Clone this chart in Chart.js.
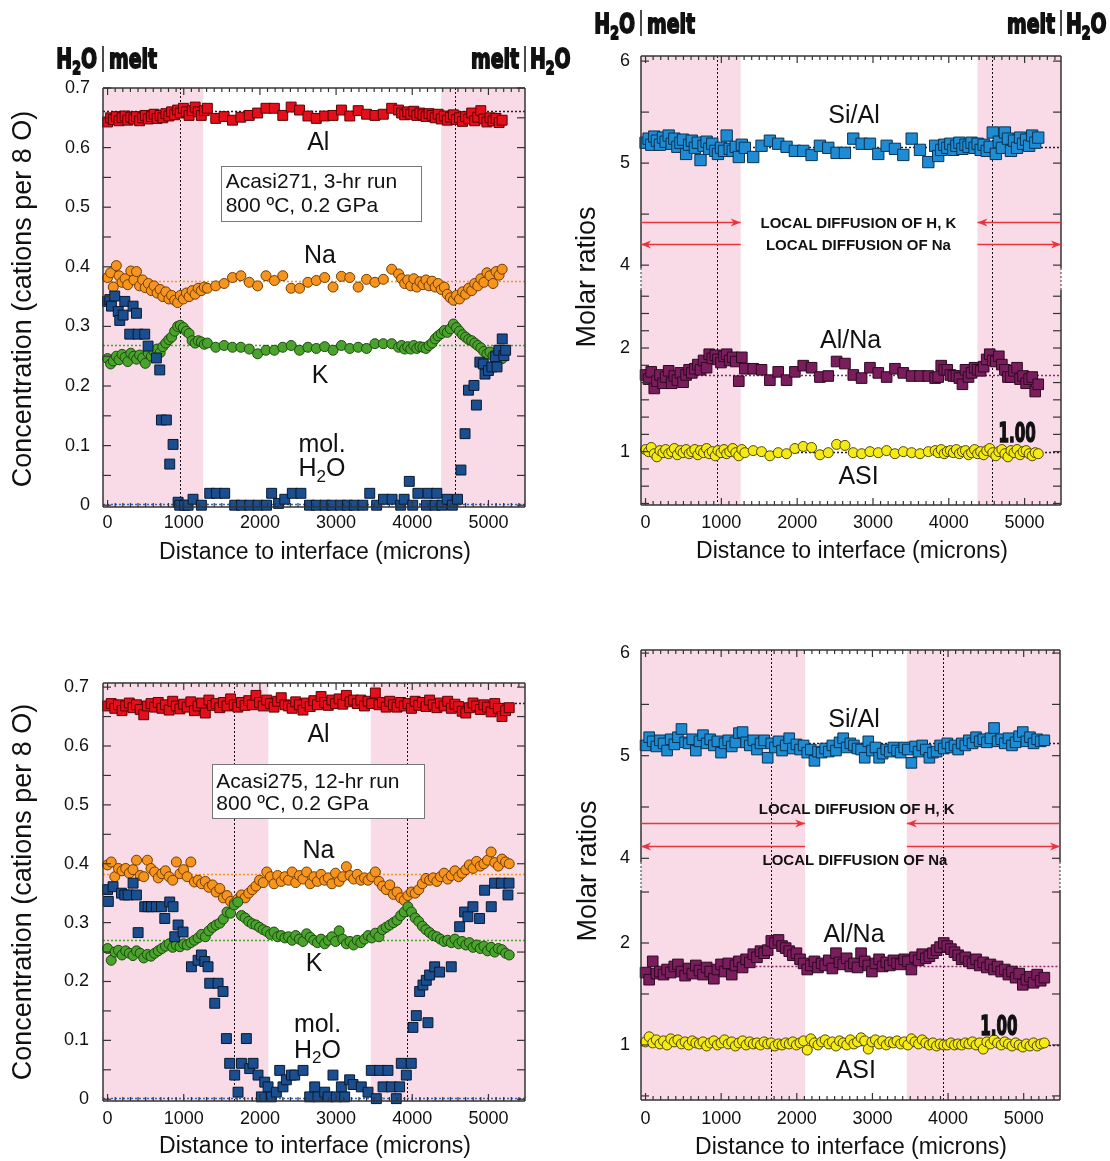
<!DOCTYPE html>
<html>
<head>
<meta charset="utf-8">
<title>Diffusion profiles Acasi271 / Acasi275</title>
<script src="https://cdn.jsdelivr.net/npm/chart.js@4.4.1/dist/chart.umd.min.js"></script>
<style>
  html, body { margin: 0; padding: 0; background: #fff; }
  #wrap { position: relative; width: 1110px; height: 1161px; overflow: hidden; }
  #wrap canvas { position: absolute; left: 0; top: 0; }
</style>
</head>
<body>
<div id="wrap">
  <canvas id="concTop" width="1110" height="1161"></canvas>
  <canvas id="ratioTop" width="1110" height="1161"></canvas>
  <canvas id="concBottom" width="1110" height="1161"></canvas>
  <canvas id="ratioBottom" width="1110" height="1161"></canvas>
</div>
<script>
// === axes ===
const X_MIN = -60, X_MAX = 5480;
const xTicks = [0, 1000, 2000, 3000, 4000, 5000];
const concTicks = [0, 0.1, 0.2, 0.3, 0.4, 0.5, 0.6, 0.7];
const ratioTicksUpper = [4, 5, 6];
const ratioTicksLower = [1, 2];

// === Acasi271, 3-hr run (distance in microns) ===
const topX = [0, 40, 75, 115, 150, 190, 230, 265, 305, 345, 380, 420, 460, 495, 535, 575, 610, 650, 690, 725, 765, 805, 840, 880, 920, 955, 995, 1035, 1070, 1110, 1150, 1190, 1230, 1270, 1310,
  1420, 1530, 1640, 1750, 1860, 1970, 2080, 2190, 2300, 2410, 2520, 2630, 2740, 2850, 2960, 3070, 3180, 3290, 3400, 3510, 3620, 3730,
  3820, 3860, 3900, 3940, 3980, 4020, 4060, 4100, 4140, 4180, 4220, 4260, 4300, 4340, 4380, 4420, 4460, 4500, 4540, 4580, 4620, 4660, 4700, 4740, 4780, 4820, 4860, 4900, 4940, 4980, 5020, 5060, 5100, 5140, 5180];
const topAl = [0.643, 0.650, 0.647, 0.652, 0.645, 0.650, 0.653, 0.646, 0.651, 0.648, 0.652, 0.645, 0.650, 0.654, 0.648, 0.652, 0.656, 0.649, 0.654, 0.650, 0.657, 0.653, 0.660, 0.655, 0.663, 0.658, 0.666, 0.660, 0.654, 0.662, 0.668, 0.660, 0.654, 0.662, 0.666,
  0.649, 0.652, 0.646, 0.651, 0.654, 0.658, 0.666, 0.666, 0.654, 0.668, 0.663, 0.653, 0.649, 0.653, 0.654, 0.663, 0.653, 0.662, 0.656, 0.654, 0.656, 0.666,
  0.663, 0.658, 0.655, 0.660, 0.656, 0.661, 0.654, 0.658, 0.655, 0.652, 0.657, 0.654, 0.650, 0.656, 0.648, 0.653, 0.646, 0.651, 0.655, 0.647, 0.650, 0.644, 0.652, 0.648, 0.658, 0.645, 0.651, 0.662, 0.648, 0.643, 0.650, 0.645, 0.649, 0.642, 0.646];
const topNa = [0.382, 0.390, 0.366, 0.402, 0.385, 0.374, 0.380, 0.370, 0.393, 0.378, 0.392, 0.368, 0.378, 0.365, 0.372, 0.360, 0.368, 0.356, 0.362, 0.350, 0.358, 0.346, 0.352, 0.344, 0.340, 0.352, 0.346, 0.356, 0.350, 0.360, 0.354, 0.364, 0.360, 0.366, 0.364,
  0.368, 0.372, 0.382, 0.385, 0.374, 0.368, 0.385, 0.377, 0.385, 0.364, 0.364, 0.374, 0.377, 0.382, 0.366, 0.384, 0.382, 0.366, 0.379, 0.374, 0.379, 0.396,
  0.388, 0.380, 0.372, 0.378, 0.368, 0.380, 0.366, 0.375, 0.370, 0.378, 0.368, 0.376, 0.366, 0.372, 0.362, 0.366, 0.354, 0.348, 0.344, 0.352, 0.346, 0.358, 0.354, 0.364, 0.360, 0.372, 0.368, 0.380, 0.374, 0.390, 0.385, 0.372, 0.392, 0.386, 0.396];
const topK = [0.246, 0.237, 0.242, 0.250, 0.244, 0.253, 0.248, 0.241, 0.255, 0.250, 0.245, 0.252, 0.247, 0.238, 0.255, 0.250, 0.258, 0.262, 0.256, 0.266, 0.272, 0.278, 0.282, 0.292, 0.300, 0.302, 0.298, 0.292, 0.288, 0.276, 0.272, 0.276, 0.274, 0.270, 0.272,
  0.265, 0.268, 0.265, 0.265, 0.262, 0.254, 0.260, 0.260, 0.265, 0.268, 0.260, 0.265, 0.263, 0.266, 0.260, 0.268, 0.263, 0.265, 0.263, 0.271, 0.271, 0.271,
  0.265, 0.268, 0.262, 0.266, 0.262, 0.268, 0.263, 0.266, 0.265, 0.263, 0.268, 0.272, 0.279, 0.284, 0.288, 0.293, 0.290, 0.296, 0.304, 0.298, 0.292, 0.286, 0.282, 0.278, 0.276, 0.272, 0.268, 0.264, 0.258, 0.254, 0.257, 0.251, 0.248, 0.252, 0.246];
const topSiAl = [5.20, 5.24, 5.18, 5.26, 5.22, 5.18, 5.25, 5.21, 5.27, 5.19, 5.24, 5.16, 5.20, 5.23, 5.09, 5.18, 5.22, 5.15, 5.20, 5.03, 5.17, 5.21, 5.14, 5.19, 5.12, 5.09, 5.15, 5.12, 5.27, 5.14, 5.12, 5.16, 5.06, 5.18, 5.15,
  5.06, 5.17, 5.22, 5.19, 5.16, 5.12, 5.12, 5.08, 5.17, 5.15, 5.10, 5.10, 5.24, 5.19, 5.19, 5.09, 5.17, 5.14, 5.08, 5.24, 5.13, 5.01,
  5.17, 5.07, 5.13, 5.18, 5.15, 5.19, 5.13, 5.17, 5.20, 5.14, 5.18, 5.16, 5.20, 5.15, 5.19, 5.13, 5.18, 5.12, 5.16, 5.30, 5.09, 5.21, 5.15, 5.30, 5.24, 5.12, 5.22, 5.15, 5.25, 5.19, 5.23, 5.17, 5.27, 5.20, 5.25];
const topAlNa = [1.74, 1.70, 1.77, 1.61, 1.68, 1.74, 1.66, 1.72, 1.78, 1.66, 1.73, 1.69, 1.76, 1.67, 1.74, 1.79, 1.76, 1.80, 1.84, 1.79, 1.88, 1.81, 1.94, 1.90, 1.93, 1.89, 1.86, 1.92, 1.94, 1.88, 1.91, 1.87, 1.68, 1.91, 1.80,
  1.80, 1.79, 1.69, 1.77, 1.69, 1.77, 1.83, 1.81, 1.72, 1.73, 1.87, 1.85, 1.74, 1.71, 1.81, 1.76, 1.72, 1.80, 1.76, 1.73, 1.73, 1.73,
  1.71, 1.72, 1.83, 1.79, 1.79, 1.74, 1.73, 1.73, 1.71, 1.65, 1.79, 1.72, 1.76, 1.81, 1.79, 1.78, 1.82, 1.89, 1.94, 1.88, 1.87, 1.92, 1.84, 1.79, 1.72, 1.72, 1.78, 1.81, 1.70, 1.73, 1.66, 1.70, 1.72, 1.58, 1.65];
const topASI = [1.02, 1.00, 1.04, 0.98, 0.95, 1.01, 0.99, 1.02, 0.98, 1.00, 1.03, 0.97, 1.01, 0.99, 1.02, 0.98, 1.00, 1.02, 0.97, 1.01, 0.99, 1.03, 0.98, 1.00, 0.96, 1.01, 0.99, 1.02, 0.98, 1.00, 1.03, 0.99, 0.96, 1.02, 0.99,
  1.01, 1.00, 0.96, 0.99, 0.98, 1.03, 1.05, 1.04, 0.97, 0.99, 1.07, 1.06, 0.99, 0.98, 1.00, 0.99, 1.01, 0.98, 1.00, 0.99, 0.98, 1.00,
  1.01, 0.99, 1.02, 0.98, 1.00, 1.01, 0.99, 1.02, 0.98, 1.00, 1.01, 0.97, 0.99, 1.02, 0.98, 1.00, 0.97, 1.01, 1.03, 0.99, 0.96, 1.00, 1.02, 0.98, 0.95, 1.01, 0.99, 1.02, 0.97, 1.00, 1.01, 0.98, 0.96, 0.99, 0.98];
const topH2OX = [0, 29, 51, 94, 140, 160, 204, 226, 291, 335, 379, 401, 488, 532, 641, 685, 707, 772, 816, 860, 926, 947, 1013, 1057, 1122, 1232, 1341, 1429, 1538, 1669,
  1757, 1866, 1975, 2087, 2154, 2245, 2326, 2425, 2538, 2651, 2742, 2855, 2945, 3058, 3148, 3238, 3351, 3442, 3532, 3622, 3735, 3848, 3893, 3961, 4006,
  4074, 4187, 4209, 4300, 4322, 4390, 4458, 4526, 4594, 4639, 4693, 4738, 4810, 4842, 4887, 4932, 4955, 5000, 5045, 5090, 5113, 5136, 5181, 5203, 5226];
const topH2O = [0.342, 0.345, 0.334, 0.351, 0.325, 0.310, 0.319, 0.342, 0.287, 0.334, 0.322, 0.287, 0.287, 0.267, 0.247, 0.227, 0.143, 0.143, 0.069, 0.102, 0.005, 0, 0, 0, 0.01, 0, 0.02, 0.02, 0.02, 0,
  0, 0, 0, 0, 0.02, 0.003, 0.01, 0.02, 0.02, 0, 0, 0, 0, 0, 0, 0, 0, 0.02, 0, 0.01, 0.01, 0, 0.01, 0.04, 0,
  0.02, 0, 0.02, 0, 0.02, 0, 0.01, 0, 0.01, 0.059, 0.12, 0.193, 0.201, 0.168, 0.24, 0.237, 0.22, 0.226, 0.232, 0.249, 0.232, 0.26, 0.279, 0.251, 0.26];

// === Acasi275, 12-hr run ===
const bottomX = [0, 48, 95, 143, 190, 238, 285, 333, 380, 428, 475, 523, 570, 618, 665, 713, 760, 808, 855, 903,
  950, 998, 1045, 1093, 1140, 1188, 1235, 1283, 1330, 1378, 1425, 1473, 1520, 1568, 1615, 1663, 1710, 1758, 1805, 1853,
  1900, 1948, 1995, 2043, 2090, 2138, 2185, 2233, 2280, 2328, 2375, 2423, 2470, 2518, 2565, 2613, 2660, 2708, 2755, 2803,
  2850, 2898, 2945, 2993, 3040, 3088, 3135, 3183, 3230, 3278, 3325, 3373, 3420, 3468, 3515, 3563, 3610, 3658, 3705, 3753,
  3800, 3848, 3895, 3943, 3990, 4038, 4085, 4133, 4180, 4228, 4275, 4323, 4370, 4418, 4465, 4513, 4560, 4608, 4655, 4703,
  4750, 4798, 4845, 4893, 4940, 4988, 5035, 5083, 5130, 5178, 5225, 5273];
const bottomAl = [0.668, 0.672, 0.664, 0.670, 0.660, 0.668, 0.673, 0.665, 0.670, 0.662, 0.653, 0.668, 0.672, 0.666, 0.674, 0.664, 0.670, 0.661, 0.676, 0.668,
  0.663, 0.671, 0.666, 0.675, 0.660, 0.668, 0.673, 0.656, 0.678, 0.669, 0.672, 0.665, 0.674, 0.668, 0.680, 0.670, 0.666, 0.674, 0.669, 0.677,
  0.670, 0.686, 0.674, 0.668, 0.678, 0.672, 0.666, 0.676, 0.682, 0.670, 0.668, 0.664, 0.675, 0.670, 0.661, 0.673, 0.667, 0.677, 0.670, 0.684,
  0.674, 0.669, 0.678, 0.672, 0.680, 0.671, 0.686, 0.675, 0.678, 0.672, 0.678, 0.668, 0.676, 0.672, 0.690, 0.670, 0.674, 0.666, 0.676, 0.670,
  0.666, 0.674, 0.668, 0.672, 0.664, 0.676, 0.669, 0.674, 0.667, 0.678, 0.670, 0.665, 0.673, 0.668, 0.676, 0.664, 0.671, 0.667, 0.659, 0.656,
  0.665, 0.673, 0.668, 0.662, 0.670, 0.666, 0.658, 0.672, 0.664, 0.650, 0.660, 0.665];
const bottomNa = [0.398, 0.403, 0.378, 0.392, 0.388, 0.392, 0.384, 0.390, 0.406, 0.380, 0.378, 0.406, 0.392, 0.386, 0.376, 0.383, 0.388, 0.378, 0.372, 0.403,
  0.383, 0.390, 0.378, 0.403, 0.369, 0.372, 0.366, 0.370, 0.360, 0.364, 0.352, 0.358, 0.342, 0.346, 0.336, 0.333, 0.340, 0.347, 0.342, 0.350,
  0.356, 0.362, 0.372, 0.368, 0.386, 0.378, 0.366, 0.380, 0.370, 0.378, 0.372, 0.386, 0.368, 0.380, 0.374, 0.386, 0.366, 0.378, 0.370, 0.382,
  0.372, 0.376, 0.366, 0.384, 0.370, 0.378, 0.395, 0.380, 0.374, 0.382, 0.372, 0.376, 0.372, 0.378, 0.386, 0.370, 0.362, 0.356, 0.364, 0.348,
  0.352, 0.342, 0.338, 0.346, 0.352, 0.350, 0.356, 0.366, 0.375, 0.372, 0.376, 0.370, 0.378, 0.384, 0.374, 0.380, 0.388, 0.378, 0.384, 0.390,
  0.398, 0.392, 0.404, 0.396, 0.400, 0.406, 0.420, 0.402, 0.396, 0.408, 0.403, 0.400];
const bottomK = [0.256, 0.236, 0.250, 0.253, 0.245, 0.252, 0.248, 0.244, 0.252, 0.248, 0.240, 0.246, 0.243, 0.248, 0.252, 0.256, 0.260, 0.264, 0.258, 0.262,
  0.259, 0.264, 0.262, 0.266, 0.270, 0.274, 0.280, 0.276, 0.286, 0.292, 0.296, 0.299, 0.306, 0.318, 0.316, 0.330, 0.335, 0.312, 0.308, 0.302,
  0.298, 0.296, 0.292, 0.288, 0.285, 0.280, 0.284, 0.276, 0.278, 0.274, 0.276, 0.270, 0.278, 0.272, 0.268, 0.281, 0.275, 0.270, 0.266, 0.272,
  0.264, 0.270, 0.276, 0.268, 0.286, 0.272, 0.264, 0.268, 0.262, 0.270, 0.266, 0.272, 0.278, 0.274, 0.282, 0.276, 0.288, 0.292, 0.296, 0.300,
  0.304, 0.312, 0.318, 0.327, 0.318, 0.308, 0.302, 0.294, 0.288, 0.283, 0.278, 0.276, 0.272, 0.268, 0.270, 0.266, 0.272, 0.264, 0.268, 0.262,
  0.266, 0.258, 0.262, 0.256, 0.260, 0.252, 0.258, 0.250, 0.256, 0.254, 0.248, 0.245];
const bottomSiAl = [5.10, 5.18, 5.14, 5.09, 5.15, 5.12, 5.05, 5.16, 5.11, 5.18, 5.26, 5.13, 5.12, 5.16, 5.05, 5.14, 5.20, 5.12, 5.16, 5.10,
  5.14, 5.03, 5.12, 5.15, 5.09, 5.13, 5.22, 5.23, 5.13, 5.10, 5.15, 5.06, 5.12, 5.15, 4.98, 5.12, 5.08, 5.14, 5.05, 5.10,
  5.17, 5.07, 5.11, 5.06, 5.10, 5.03, 5.06, 4.95, 5.04, 5.03, 5.07, 5.04, 5.10, 5.05, 5.13, 5.17, 5.08, 5.12, 5.10, 5.07,
  5.06, 4.98, 5.14, 5.05, 5.08, 4.98, 5.02, 5.06, 5.04, 5.08, 5.05, 5.03, 5.08, 5.06, 4.93, 5.09, 5.04, 5.10, 5.06, 4.98,
  5.03, 5.04, 5.10, 5.07, 5.12, 5.08, 5.10, 5.06, 5.12, 5.10, 5.15, 5.12, 5.18, 5.14, 5.16, 5.13, 5.17, 5.27, 5.14, 5.16,
  5.12, 5.17, 5.10, 5.13, 5.19, 5.23, 5.14, 5.18, 5.12, 5.16, 5.14, 5.15];
const bottomAlNa = [1.71, 1.64, 1.82, 1.70, 1.72, 1.69, 1.74, 1.71, 1.77, 1.79, 1.72, 1.68, 1.75, 1.70, 1.78, 1.73, 1.69, 1.76, 1.72, 1.65,
  1.74, 1.79, 1.72, 1.80, 1.69, 1.78, 1.82, 1.76, 1.84, 1.81, 1.89, 1.86, 1.92, 1.90, 1.93, 2.02, 2.00, 2.03, 1.97, 1.95,
  1.92, 1.88, 1.90, 1.84, 1.80, 1.74, 1.78, 1.82, 1.76, 1.80, 1.78, 1.83, 1.75, 1.90, 1.81, 1.79, 1.85, 1.77, 1.80, 1.76,
  1.90, 1.82, 1.78, 1.72, 1.80, 1.84, 1.77, 1.81, 1.78, 1.83, 1.80, 1.79, 1.84, 1.82, 1.74, 1.86, 1.83, 1.89, 1.85, 1.87,
  1.90, 1.93, 1.96, 2.00, 1.97, 1.94, 1.91, 1.88, 1.84, 1.86, 1.82, 1.80, 1.84, 1.78, 1.81, 1.76, 1.79, 1.74, 1.77, 1.72,
  1.74, 1.69, 1.72, 1.66, 1.70, 1.59, 1.64, 1.67, 1.61, 1.69, 1.63, 1.66];
const bottomASI = [1.03, 1.08, 1.02, 1.05, 1.01, 1.04, 1.00, 1.06, 1.03, 1.05, 1.01, 1.03, 1.00, 1.04, 1.02, 1.01, 1.03, 0.99, 1.02, 1.04,
  1.00, 1.02, 1.05, 1.01, 1.03, 0.99, 1.02, 1.04, 1.00, 1.03, 1.01, 1.02, 1.00, 1.03, 1.01, 1.02, 0.99, 1.01, 1.00, 1.02,
  1.01, 1.03, 1.00, 1.02, 1.04, 0.95, 1.06, 1.02, 1.00, 1.03, 1.05, 1.01, 1.03, 0.99, 1.04, 1.02, 1.00, 1.05, 1.01, 1.03,
  1.07, 1.04, 0.96, 1.03, 1.05, 1.01, 1.04, 1.00, 1.03, 1.02, 1.04, 1.01, 1.03, 1.00, 1.06, 1.03, 1.01, 1.05, 1.02, 1.00,
  1.02, 0.99, 1.01, 1.00, 1.00, 1.02, 1.00, 1.01, 1.00, 1.02, 1.01, 1.03, 1.00, 1.02, 0.96, 1.03, 1.01, 1.05, 1.02, 1.00,
  1.03, 1.01, 0.99, 1.02, 1.00, 0.98, 1.01, 0.99, 1.02, 0.99, 1.01, 1.02];
const bottomH2OX = [0, 10, 72, 182, 226, 269, 335, 379, 401, 488, 532, 576, 641, 707, 751, 816, 860, 882, 926, 991,
  1101, 1188, 1232, 1276, 1319, 1341, 1407, 1451, 1516, 1560, 1603, 1669, 1713, 1757, 1822, 1866, 1910, 1975, 2019, 2063,
  2107, 2150, 2216, 2260, 2303, 2347, 2413, 2457, 2566, 2653, 2719, 2763, 2850, 2894, 2959, 3003, 3069, 3113, 3178, 3222,
  3331, 3419, 3462, 3528, 3572, 3616, 3681, 3725, 3790, 3834, 3856, 3922, 3987, 4009, 4053, 4097, 4140, 4184, 4206, 4228,
  4294, 4359, 4512, 4622, 4687, 4731, 4796, 4884, 4950, 5037, 5081, 5169, 5256, 5270];
const bottomH2O = [0.356, 0.336, 0.361, 0.350, 0.347, 0.347, 0.367, 0.347, 0.283, 0.327, 0.327, 0.327, 0.327, 0.327, 0.307, 0.335, 0.327, 0.276, 0.296, 0.284,
  0.225, 0.236, 0.245, 0.234, 0.225, 0.197, 0.163, 0.197, 0.183, 0.103, 0.061, 0.041, 0.012, 0.061, 0.103, 0.052, 0.061, 0.041, 0.004, 0.029,
  0.021, 0.004, 0.012, 0.049, 0.021, 0.033, 0.041, 0.041, 0.049, 0.004, 0.021, 0.004, 0.012, 0.004, 0.041, 0.004, 0.021, 0.004, 0.033, 0.025,
  0.021, 0.012, 0.049, 0.001, 0.049, 0.021, 0.049, 0.021, 0.001, 0.021, 0.061, 0.041, 0.061, 0.122, 0.142, 0.183, 0.194, 0.202, 0.13, 0.211,
  0.225, 0.216, 0.225, 0.293, 0.318, 0.310, 0.327, 0.307, 0.355, 0.327, 0.367, 0.367, 0.347, 0.367];

// === look ===
const SANS = "'Liberation Sans', Arial, Helvetica, sans-serif";
const HEAVY = "'DejaVu Sans', sans-serif";   // squeezed horizontally to look like a condensed black face
const PINK = '#f9dbe7';
const RED_ARROW = '#e8343c';
Chart.defaults.font.family = SANS;
Chart.defaults.color = '#111';

function line(ctx, x0, y0, x1, y1) {
  ctx.beginPath(); ctx.moveTo(x0, y0); ctx.lineTo(x1, y1); ctx.stroke();
}

// text with "_" marking a subscript character, e.g. H_2O; o.sx squeezes it horizontally
function rich(ctx, str, x, y, size, o) {
  o = o || {};
  const fam = o.family || SANS, wt = o.bold ? 'bold ' : '', sx = o.sx || 1;
  const fMain = wt + size + 'px ' + fam, fSub = wt + Math.round(size * 0.68) + 'px ' + fam;
  const parts = [];
  for (let i = 0; i < str.length; i++) {
    if (str[i] === '_') { parts.push([str[i + 1], true]); i++; } else parts.push([str[i], false]);
  }
  let w = 0;
  parts.forEach(p => { ctx.font = p[1] ? fSub : fMain; w += ctx.measureText(p[0]).width * sx; });
  let cx = o.align === 'right' ? x - w : o.align === 'left' ? x : x - w / 2;
  ctx.textAlign = 'left'; ctx.textBaseline = 'alphabetic';
  parts.forEach(p => {
    ctx.font = p[1] ? fSub : fMain;
    const yy = p[1] ? y + size * 0.22 : y;
    ctx.save();
    ctx.translate(cx, yy); ctx.scale(sx, 1);
    if (o.stroke) ctx.lineWidth = o.stroke;
    ctx.fillText(p[0], 0, 0);
    if (o.stroke) ctx.strokeText(p[0], 0, 0);
    ctx.restore();
    cx += ctx.measureText(p[0]).width * sx;
  });
}

function deco(p) {
  return {
    id: 'deco',
    beforeDatasetsDraw(chart) {
      const ctx = chart.ctx, a = chart.chartArea, xs = chart.scales.x;
      ctx.save();
      ctx.fillStyle = PINK;
      const w0 = xs.getPixelForValue(p.white[0]), w1 = xs.getPixelForValue(p.white[1]);
      ctx.fillRect(a.left, a.top, w0 - a.left, a.bottom - a.top);
      ctx.fillRect(w1, a.top, a.right - w1, a.bottom - a.top);
      // interface positions
      ctx.lineWidth = 1; ctx.strokeStyle = '#111'; ctx.setLineDash([2, 2]);
      p.interfaces.forEach(v => {
        const px = Math.round(xs.getPixelForValue(v)) + 0.5;
        line(ctx, px, a.top, px, a.bottom);
      });
      // starting composition lines
      p.refs.forEach(r => {
        const py = Math.round(chart.scales[r.axis].getPixelForValue(r.v)) + 0.5;
        const x0 = r.from != null ? xs.getPixelForValue(r.from) : a.left;
        ctx.strokeStyle = r.color; ctx.lineWidth = 1.5; ctx.setLineDash([2, 2]);
        line(ctx, x0, py, a.right, py);
      });
      ctx.restore();
    },
    afterDatasetsDraw(chart) {
      const ctx = chart.ctx, a = chart.chartArea, xs = chart.scales.x;
      ctx.save();
      // frame (dotted where the ratio axis is broken)
      ctx.strokeStyle = '#333'; ctx.lineWidth = 1.5; ctx.setLineDash([]);
      line(ctx, a.left, a.top, a.right, a.top);
      line(ctx, a.left, a.bottom, a.right, a.bottom);
      const g = chart.scales.yG;
      [a.left, a.right].forEach(px => {
        if (g) {
          ctx.setLineDash([]); ctx.lineWidth = 1.5;
          line(ctx, px, a.top, px, g.top); line(ctx, px, g.bottom, px, a.bottom);
          ctx.setLineDash([2, 2]); ctx.lineWidth = 1;
          line(ctx, px, g.top, px, g.bottom);
        } else {
          line(ctx, px, a.top, px, a.bottom);
        }
      });
      // inward ticks
      ctx.setLineDash([]); ctx.lineWidth = 1.2;
      for (let k = 0; k * 100 <= xs.max; k++) {
        const v = k * 100, px = xs.getPixelForValue(v), len = v % 1000 === 0 ? 7 : 4;
        line(ctx, px, a.bottom, px, a.bottom - len);
        line(ctx, px, a.top, px, a.top + len);
      }
      p.yTicks.forEach(t => {
        const s = chart.scales[t.axis];
        for (let k = Math.ceil(s.min / t.step - 1e-6); k * t.step <= s.max + 1e-6; k++) {
          const py = s.getPixelForValue(k * t.step);
          line(ctx, a.left, py, a.left + 8, py);
          line(ctx, a.right - 8, py, a.right, py);
        }
      });
      // run box
      if (p.box) {
        const b = p.box, ys = chart.scales.y;
        const x0 = Math.round(xs.getPixelForValue(b.x0)), x1 = Math.round(xs.getPixelForValue(b.x1));
        const y0 = Math.round(ys.getPixelForValue(b.y0)), y1 = Math.round(ys.getPixelForValue(b.y1));
        ctx.fillStyle = '#fff'; ctx.fillRect(x0, y0, x1 - x0, y1 - y0);
        ctx.strokeStyle = '#777'; ctx.lineWidth = 1; ctx.strokeRect(x0 + 0.5, y0 + 0.5, x1 - x0, y1 - y0);
        ctx.fillStyle = '#111'; ctx.font = '21px ' + SANS; ctx.textAlign = 'left'; ctx.textBaseline = 'alphabetic';
        b.lines.forEach((s, i) => ctx.fillText(s, xs.getPixelForValue(b.tx), ys.getPixelForValue(b.ty[i])));
      }
      // arrows
      (p.arrows || []).forEach(ar => {
        const py = Math.round(chart.scales[ar.axis].getPixelForValue(ar.v)) + 0.5;
        const x0 = xs.getPixelForValue(ar.x0), x1 = xs.getPixelForValue(ar.x1);
        ctx.strokeStyle = RED_ARROW; ctx.fillStyle = RED_ARROW; ctx.lineWidth = 1.5;
        line(ctx, x0, py, x1, py);
        const tip = ar.head === 'end' ? x1 : x0, dir = ar.head === 'end' ? -1 : 1;
        ctx.beginPath();
        ctx.moveTo(tip, py); ctx.lineTo(tip + dir * 10, py - 4); ctx.lineTo(tip + dir * 7, py); ctx.lineTo(tip + dir * 10, py + 4);
        ctx.closePath(); ctx.fill();
      });
      // labels
      ctx.fillStyle = '#111'; ctx.strokeStyle = '#111';
      p.labels.forEach(l => {
        const px = xs.getPixelForValue(l.x), py = chart.scales[l.axis || 'y'].getPixelForValue(l.y);
        rich(ctx, l.t, px, py, l.size || 25, l);
      });
      ctx.restore();
    },
    afterDraw(chart) {
      const ctx = chart.ctx, a = chart.chartArea;
      ctx.save();
      ctx.fillStyle = '#111'; ctx.strokeStyle = '#111';
      ctx.font = '23px ' + SANS; ctx.textAlign = 'center'; ctx.textBaseline = 'middle';
      ctx.fillText('Distance to interface (microns)', p.xTitle[0], p.xTitle[1]);
      ctx.save();
      ctx.translate(p.yTitle[0], p.yTitle[1]); ctx.rotate(-Math.PI / 2);
      ctx.font = '27px ' + SANS; ctx.fillText(p.yTitleText, 0, 0);
      ctx.restore();
      if (p.header) {
        const h = p.header, hf = {family: HEAVY, bold: true, stroke: 1.8, sx: 0.7};
        ctx.lineWidth = 1.5;
        line(ctx, a.left, h.top, a.left, h.bot);
        line(ctx, a.right, h.top, a.right, h.bot);
        rich(ctx, 'H_2O', a.left - 6, h.base, 27, Object.assign({align: 'right'}, hf));
        rich(ctx, 'melt', a.left + 6, h.base, 27, Object.assign({align: 'left'}, hf));
        rich(ctx, 'melt', a.right - 6, h.base, 27, Object.assign({align: 'right'}, hf));
        rich(ctx, 'H_2O', a.right + 5, h.base, 27, Object.assign({align: 'left'}, hf));
      }
      ctx.restore();
    }
  };
}

function points(xs, ys) {
  return xs.map((x, i) => ({x: x, y: ys[i]})).filter(pt => pt.y != null);
}

function series(label, xs, ys, shape, r, fill, edge, axis) {
  return {
    label: label, data: points(xs, ys), yAxisID: axis || 'y',
    showLine: false, clip: false,
    pointStyle: shape, pointRadius: r, pointHoverRadius: r,
    pointBackgroundColor: fill, pointBorderColor: edge, pointBorderWidth: 1
  };
}

function xAxis(pad) {
  return {
    type: 'linear', position: 'bottom', min: X_MIN, max: X_MAX,
    grid: {display: false, drawTicks: false}, border: {display: false},
    ticks: {autoSkip: false, maxRotation: 0, padding: pad, color: '#111', font: {size: 18}, callback: v => String(v)},
    afterBuildTicks: s => { s.ticks = xTicks.map(v => ({value: v})); },
    afterFit: s => { s.height = 40; }
  };
}

function yAxis(vals, pad, extra) {
  return Object.assign({
    type: 'linear', position: 'left',
    grid: {display: false, drawTicks: false}, border: {display: false},
    ticks: {autoSkip: false, padding: pad, color: '#111', font: {size: 18},
      callback: v => (v === 0 ? '0' : (Number.isInteger(v) ? String(v) : v.toFixed(1)))},
    afterBuildTicks: s => { s.ticks = vals.map(v => ({value: v})); },
    afterFit: s => { s.width = 60; }
  }, extra);
}

function gapAxis(weight) {
  return {
    type: 'linear', position: 'left', stack: 'ratio', stackWeight: weight, weight: 2, min: 0, max: 1,
    grid: {display: false, drawTicks: false}, border: {display: false}, ticks: {display: false},
    afterFit: s => { s.width = 60; }
  };
}

function panel(id, area, scales, datasets, p) {
  new Chart(document.getElementById(id), {
    type: 'scatter',
    data: {datasets: datasets},
    options: {
      responsive: false, animation: false, devicePixelRatio: 1, events: [],
      layout: {padding: {left: area.left - 60, top: area.top, right: 1110 - area.right, bottom: 1161 - area.bottom - 40}},
      scales: scales,
      plugins: {legend: {display: false}, tooltip: {enabled: false}}
    },
    plugins: [deco(p)]
  });
}

const C = {
  al: ['#e3101c', '#5c0000'], na: ['#f7941e', '#6e3c00'], k: ['#4aa32c', '#1c4a0e'],
  h2o: ['#1b4e8e', '#08192f'], sial: ['#1e8bd2', '#0a3353'], alna: ['#7a1d5c', '#2e0822'], asi: ['#f5ea14', '#4d4600']
};
const ONE = {size: 27, family: HEAVY, bold: true, stroke: 1.6, sx: 0.56};

// --- top left: concentrations, Acasi271 ---
panel('concTop', {left: 103, top: 88, right: 525, bottom: 507},
  {x: xAxis(5), y: yAxis(concTicks, 13, {min: -0.003, max: 0.7})},
  [
    series('mol. H2O', topH2OX, topH2O, 'rect', 7, C.h2o[0], C.h2o[1]),
    series('K', topX, topK, 'circle', 5, C.k[0], C.k[1]),
    series('Na', topX, topNa, 'circle', 5, C.na[0], C.na[1]),
    series('Al', topX, topAl, 'rect', 7, C.al[0], C.al[1])
  ],
  {
    white: [1255, 4378], interfaces: [945, 4565],
    refs: [{axis: 'y', v: 0.661, color: '#222'}, {axis: 'y', v: 0.376, color: '#f7941e'}, {axis: 'y', v: 0.269, color: '#4aa32c'}, {axis: 'y', v: 0.002, color: '#3566b5'}],
    yTicks: [{axis: 'y', step: 0.05}],
    labels: [{t: 'Al', x: 2766, y: 0.596}, {t: 'Na', x: 2789, y: 0.407}, {t: 'K', x: 2789, y: 0.2045}, {t: 'mol.', x: 2815, y: 0.090}, {t: 'H_2O', x: 2815, y: 0.049}],
    box: {x0: 1494, x1: 4116, y0: 0.5691, y1: 0.4768, tx: 1550, ty: [0.5322, 0.4924], lines: ['Acasi271, 3-hr run', '800 ºC, 0.2 GPa']},
    xTitle: [315, 553], yTitle: [24, 299], yTitleText: 'Concentration (cations per 8 O)',
    header: {base: 68, top: 46, bot: 72}
  });

// --- top right: molar ratios, Acasi271 (broken axis) ---
panel('ratioTop', {left: 641, top: 56, right: 1061, bottom: 505},
  {
    x: xAxis(7),
    yU: yAxis(ratioTicksUpper, 11, {min: 3.972, max: 6.05, stack: 'ratio', stackWeight: 212, weight: 3}),
    yG: gapAxis(22),
    yL: yAxis(ratioTicksLower, 11, {min: 0.485, max: 2.56, stack: 'ratio', stackWeight: 215, weight: 1})
  },
  [
    series('Si/Al', topX, topSiAl, 'rect', 8, C.sial[0], C.sial[1], 'yU'),
    series('Al/Na', topX, topAlNa, 'rect', 7.5, C.alna[0], C.alna[1], 'yL'),
    series('ASI', topX, topASI, 'circle', 5, C.asi[0], C.asi[1], 'yL')
  ],
  {
    white: [1255, 4378], interfaces: [945, 4565],
    refs: [{axis: 'yU', v: 5.16, color: '#222'}, {axis: 'yL', v: 1.742, color: '#8a2a6a'}, {axis: 'yL', v: 1.0, color: '#222'}],
    yTicks: [{axis: 'yU', step: 0.5}, {axis: 'yL', step: 1 / 6}],
    labels: [
      {t: 'Si/Al', x: 2750, y: 5.39, axis: 'yU'}, {t: 'Al/Na', x: 2705, y: 2.0, axis: 'yL'}, {t: 'ASI', x: 2810, y: 0.685, axis: 'yL'},
      Object.assign({t: '1.00', x: 4900, y: 1.097, axis: 'yL'}, ONE),
      {t: 'LOCAL DIFFUSION OF H, K', x: 2808, y: 4.364, axis: 'yU', size: 15, bold: true},
      {t: 'LOCAL DIFFUSION OF Na', x: 2808, y: 4.148, axis: 'yU', size: 15, bold: true}
    ],
    arrows: [
      {axis: 'yU', v: 4.425, x0: X_MIN, x1: 1255, head: 'end'}, {axis: 'yU', v: 4.425, x0: 4378, x1: X_MAX, head: 'start'},
      {axis: 'yU', v: 4.207, x0: X_MIN, x1: 1255, head: 'start'}, {axis: 'yU', v: 4.207, x0: 4378, x1: X_MAX, head: 'end'}
    ],
    xTitle: [852, 552], yTitle: [588, 277], yTitleText: 'Molar ratios',
    header: {base: 33, top: 10, bot: 36}
  });

// --- bottom left: concentrations, Acasi275 ---
panel('concBottom', {left: 103, top: 683, right: 525, bottom: 1101},
  {x: xAxis(7), y: yAxis(concTicks, 14, {min: -0.003, max: 0.707})},
  [
    series('mol. H2O', bottomH2OX, bottomH2O, 'rect', 7, C.h2o[0], C.h2o[1]),
    series('K', bottomX, bottomK, 'circle', 5, C.k[0], C.k[1]),
    series('Na', bottomX, bottomNa, 'circle', 5, C.na[0], C.na[1]),
    series('Al', bottomX, bottomAl, 'rect', 7, C.al[0], C.al[1])
  ],
  {
    white: [2110, 3455], interfaces: [1655, 3930],
    refs: [{axis: 'y', v: 0.673, color: '#222'}, {axis: 'y', v: 0.382, color: '#f7941e'}, {axis: 'y', v: 0.270, color: '#4aa32c'}, {axis: 'y', v: 0.002, color: '#3566b5'}],
    yTicks: [{axis: 'y', step: 0.05}],
    labels: [{t: 'Al', x: 2769, y: 0.607}, {t: 'Na', x: 2769, y: 0.409}, {t: 'K', x: 2710, y: 0.2186}, {t: 'mol.', x: 2756, y: 0.115}, {t: 'H_2O', x: 2756, y: 0.0701}],
    box: {x0: 1368, x1: 4149, y0: 0.569, y1: 0.4773, tx: 1427, ty: [0.5287, 0.4914], lines: ['Acasi275, 12-hr run', '800 ºC, 0.2 GPa']},
    xTitle: [315, 1147], yTitle: [24, 892], yTitleText: 'Concentration (cations per 8 O)'
  });

// --- bottom right: molar ratios, Acasi275 ---
panel('ratioBottom', {left: 641, top: 650, right: 1060, bottom: 1100},
  {
    x: xAxis(8),
    yU: yAxis(ratioTicksUpper, 11, {min: 3.964, max: 6.03, stack: 'ratio', stackWeight: 212, weight: 3}),
    yG: gapAxis(28),
    yL: yAxis(ratioTicksLower, 11, {min: 0.46, max: 2.52, stack: 'ratio', stackWeight: 210, weight: 1})
  },
  [
    series('Si/Al', bottomX, bottomSiAl, 'rect', 7.5, C.sial[0], C.sial[1], 'yU'),
    series('Al/Na', bottomX, bottomAlNa, 'rect', 7.5, C.alna[0], C.alna[1], 'yL'),
    series('ASI', bottomX, bottomASI, 'circle', 5, C.asi[0], C.asi[1], 'yL')
  ],
  {
    white: [2110, 3455], interfaces: [1655, 3930],
    refs: [{axis: 'yU', v: 5.12, color: '#222'}, {axis: 'yL', v: 1.77, color: '#8a2a6a', from: 1400}, {axis: 'yL', v: 1.0, color: '#222'}],
    yTicks: [{axis: 'yU', step: 0.5}, {axis: 'yL', step: 0.5}],
    labels: [
      {t: 'Si/Al', x: 2756, y: 5.28, axis: 'yU'}, {t: 'Al/Na', x: 2756, y: 2.013, axis: 'yL'}, {t: 'ASI', x: 2780, y: 0.673, axis: 'yL'},
      Object.assign({t: '1.00', x: 4671, y: 1.10, axis: 'yL'}, ONE),
      {t: 'LOCAL DIFFUSION OF H, K', x: 2792, y: 4.43, axis: 'yU', size: 15, bold: true},
      {t: 'LOCAL DIFFUSION OF Na', x: 2769, y: 3.933, axis: 'yU', size: 15, bold: true}
    ],
    arrows: [
      {axis: 'yU', v: 4.347, x0: X_MIN, x1: 2110, head: 'end'}, {axis: 'yU', v: 4.347, x0: 3455, x1: X_MAX, head: 'start'},
      {axis: 'yU', v: 4.123, x0: X_MIN, x1: 2110, head: 'start'}, {axis: 'yU', v: 4.123, x0: 3455, x1: X_MAX, head: 'end'}
    ],
    xTitle: [851, 1148], yTitle: [589, 871], yTitleText: 'Molar ratios'
  });
</script>
</body>
</html>
